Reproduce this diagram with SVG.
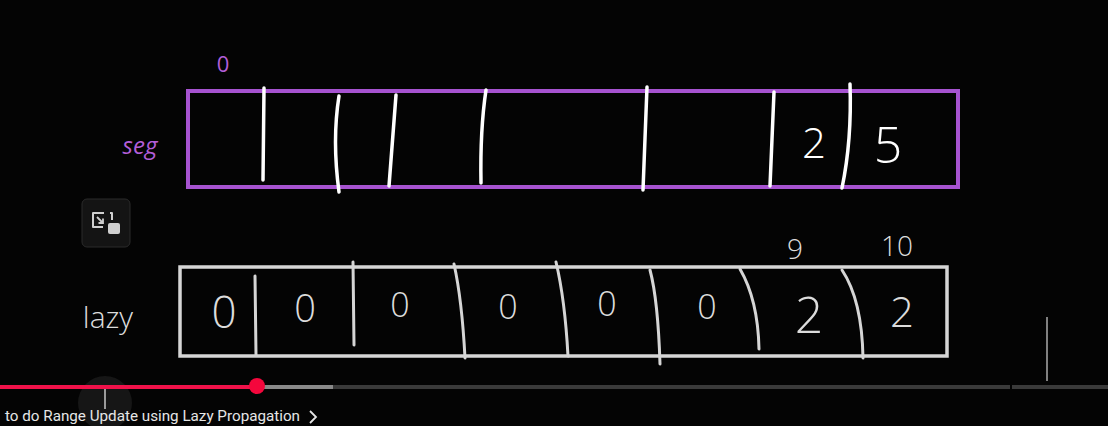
<svg xmlns="http://www.w3.org/2000/svg" width="1108" height="426" viewBox="0 0 1108 426">
<style>
.div{fill:none;stroke:#ffffff;stroke-width:3.5;stroke-linecap:round}
.ldiv{fill:none;stroke:#d6d6d6;stroke-width:3;stroke-linecap:round}
.hw{font-family:"Open Sans","Liberation Sans",sans-serif;font-weight:300;fill:#ffffff;text-anchor:middle}
.lz{font-family:"Open Sans","Liberation Sans",sans-serif;font-weight:300;fill:#dcdcdc;text-anchor:middle}
.pur{font-family:"Open Sans","Liberation Sans",sans-serif;font-weight:400;fill:#b35ed8;text-anchor:middle}
.ui{font-family:Roboto,"Liberation Sans",sans-serif;fill:#e6e6e6}
</style>
<rect width="1108" height="426" fill="#040404"/>

<g id="seg-label">
<text class="pur" x="140" y="154" font-size="24" font-style="italic">seg</text>
<text class="pur" x="223" y="72" font-size="22">0</text>
</g>

<g id="seg-array">
<rect x="188" y="91" width="770" height="96" fill="none" stroke="#a653d0" stroke-width="4"/>
<path class="div" d="M264 88 L263 180"/>
<path class="div" d="M339 96 Q332 140 339 192"/>
<path class="div" d="M396 95 L389 186"/>
<path class="div" d="M486 90 Q480 130 481 183"/>
<path class="div" d="M647 87 L643 190"/>
<path class="div" d="M774 92 L770 186"/>
<path class="div" d="M850 84 Q852 140 842 188"/>
<text class="hw" x="814" y="158" font-size="42">2</text>
<text class="hw" x="888" y="163" font-size="50">5</text>
</g>

<g id="lazy-label">
<text class="lz" x="108" y="328" font-size="30">lazy</text>
<text class="lz" x="795" y="259" font-size="28">9</text>
<text class="lz" x="897" y="256" font-size="28">10</text>
</g>

<g id="lazy-array">
<rect x="180" y="267" width="767" height="89" fill="none" stroke="#d6d6d6" stroke-width="3.5"/>
<path class="ldiv" d="M255 276 L256 355"/>
<path class="ldiv" d="M353 262 L354 345"/>
<path class="ldiv" d="M454 264 Q462 300 465 358"/>
<path class="ldiv" d="M556 262 Q565 300 568 356"/>
<path class="ldiv" d="M650 270 Q658 300 660 364"/>
<path class="ldiv" d="M740 269 Q758 300 759 349"/>
<path class="ldiv" d="M842 270 Q862 300 863 358"/>
<text class="lz" x="224" y="328" font-size="44">0</text>
<text class="lz" x="305" y="322" font-size="38">0</text>
<text class="lz" x="400" y="317" font-size="34">0</text>
<text class="lz" x="508" y="319" font-size="34">0</text>
<text class="lz" x="607" y="316" font-size="34">0</text>
<text class="lz" x="707" y="319" font-size="34">0</text>
<text class="lz" x="809" y="333" font-size="50">2</text>
<text class="lz" x="902" y="327" font-size="42">2</text>
</g>

<g id="player-ui">
<rect x="82" y="199" width="48" height="48" rx="5" fill="#141414" stroke="#2a2a2a" stroke-width="1"/>
<path d="M104 213 H93 V227 H103 M110 213 H112 V220" fill="none" stroke="#cfcfcf" stroke-width="2" stroke-linejoin="round"/>
<path d="M97 217 L103 223 M103 218.5 V223 H98.5" fill="none" stroke="#cfcfcf" stroke-width="1.8"/>
<rect x="108" y="223" width="12" height="11" rx="2" fill="#cfcfcf"/>
<line x1="1047" y1="317" x2="1047" y2="381" stroke="#808080" stroke-width="2"/>
<circle cx="105" cy="403" r="27" fill="#161616"/>
<line x1="0" y1="387" x2="257" y2="387" stroke="#f0124a" stroke-width="4"/>
<line x1="257" y1="387" x2="333" y2="387" stroke="#8a8a8a" stroke-width="4"/>
<line x1="333" y1="387" x2="1010" y2="387" stroke="#3a3a3a" stroke-width="4"/>
<line x1="1012" y1="387" x2="1108" y2="387" stroke="#3a3a3a" stroke-width="4"/>
<circle cx="257" cy="386" r="8" fill="#f4073c"/>
<path d="M105 389 V409" stroke="#9a9a9a" stroke-width="2"/>
<text class="ui" x="5" y="421" font-size="15.5" textLength="295" lengthAdjust="spacingAndGlyphs">to do Range Update using Lazy Propagation</text>
<path d="M310 411 L316 417 L310 423" fill="none" stroke="#e6e6e6" stroke-width="1.8"/>
</g>
</svg>
